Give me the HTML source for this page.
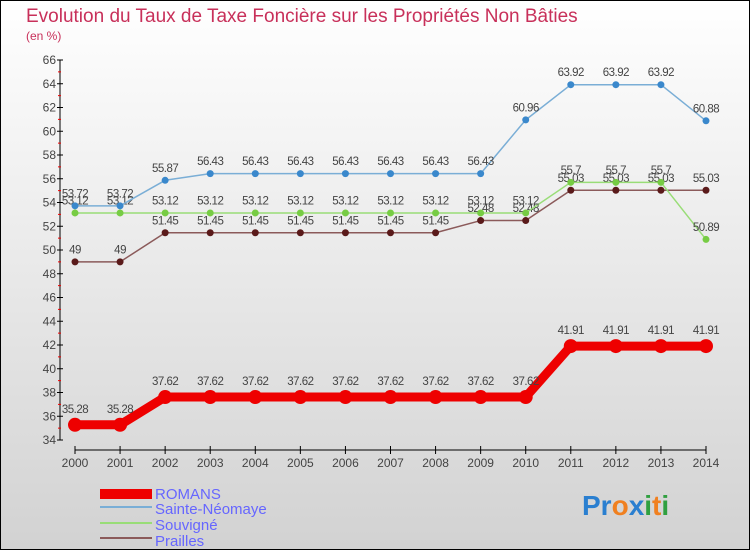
<!DOCTYPE html>
<html><head><meta charset="utf-8"><style>
body{margin:0;}
#c{width:750px;height:550px;position:relative;font-family:"Liberation Sans",sans-serif;}
</style></head><body>
<div id="c">
<svg id="s" width="750" height="550" xmlns="http://www.w3.org/2000/svg">
<defs><linearGradient id="bg" x1="0" y1="0" x2="0" y2="1"><stop offset="0" stop-color="#ffffff"/><stop offset="1" stop-color="#d2d2d2"/></linearGradient></defs>
<rect x="0.5" y="0.5" width="749" height="549" fill="url(#bg)" stroke="#000"/>
<text x="26" y="22" font-size="19" fill="#c8305a">Evolution du Taux de Taxe Foncière sur les Propriétés Non Bâties</text>
<text x="26" y="40" font-size="12" fill="#c8305a">(en %)</text>
<g id="axes"></g>
<g id="series"></g>
<g>
<rect x="100" y="489" width="52" height="10" fill="#ee0000"/>
<text x="155" y="499" font-size="15" fill="#6666ff">ROMANS</text>
<rect x="100" y="506" width="52" height="2" fill="#7aaed6"/>
<text x="155" y="514" font-size="15" fill="#6666ff">Sainte-Néomaye</text>
<rect x="100" y="522" width="52" height="2" fill="#99dd77"/>
<text x="155" y="530" font-size="15" fill="#6666ff">Souvigné</text>
<rect x="100" y="537" width="52" height="2" fill="#8b5a5a"/>
<text x="155" y="546" font-size="15" fill="#6666ff">Prailles</text>
</g>
<g font-size="28" font-weight="bold">
<text x="582" y="515"><tspan fill="#2a7fd0">Pr</tspan><tspan fill="#f08020">o</tspan><tspan fill="#2a7fd0">x</tspan><tspan fill="#30a040">i</tspan><tspan fill="#f08020">t</tspan><tspan fill="#30a040">i</tspan></text>
</g>
</svg>
</div>
<script>
const years=[2000,2001,2002,2003,2004,2005,2006,2007,2008,2009,2010,2011,2012,2013,2014];
const romans=[35.28,35.28,37.62,37.62,37.62,37.62,37.62,37.62,37.62,37.62,37.62,41.91,41.91,41.91,41.91];
const sainteNeomaye=[53.72,53.72,55.87,56.43,56.43,56.43,56.43,56.43,56.43,56.43,60.96,63.92,63.92,63.92,60.88];
const souvigne=[53.12,53.12,53.12,53.12,53.12,53.12,53.12,53.12,53.12,53.12,53.12,55.7,55.7,55.7,50.89];
const prailles=[49,49,51.45,51.45,51.45,51.45,51.45,51.45,51.45,52.48,52.48,55.03,55.03,55.03,55.03];
const yTicks=[34,36,38,40,42,44,46,48,50,52,54,56,58,60,62,64,66];
const NS="http://www.w3.org/2000/svg";
const yMin=34,yMax=66,yTop=60,yBot=440,x0=75,x1=706;
function X(i){return x0+(x1-x0)*i/(years.length-1);}
function Y(v){return yBot-(v-yMin)/(yMax-yMin)*(yBot-yTop);}
function el(t,a,p){const e=document.createElementNS(NS,t);for(const k in a)e.setAttribute(k,a[k]);p.appendChild(e);return e;}
const ax=document.getElementById('axes');
let l=el('line',{x1:60,y1:yTop,x2:60,y2:yBot,stroke:'#000'},ax);


yTicks.forEach(t=>{
 const y=Y(t);
 el('line',{x1:57,y1:y,x2:63,y2:y,stroke:'#000'},ax);
 if(t<66){const r=el('line',{x1:58,y1:Y(t+1),x2:61,y2:Y(t+1),stroke:'#e00'},ax);}
 const tx=el('text',{x:56,y:y+4,'font-size':12,'text-anchor':'end',fill:'#444'},ax);
 tx.textContent=t;
 
 
});
l=el('line',{x1:x0,y1:450,x2:x1,y2:450,stroke:'#000'},ax);


years.forEach((yr,i)=>{
 el('line',{x1:X(i),y1:446,x2:X(i),y2:454,stroke:'#000'},ax);
 const tx=el('text',{x:X(i),y:467,'font-size':12,'text-anchor':'middle',fill:'#444'},ax);
 tx.textContent=yr;
 
 
});
const sg=document.getElementById('series');
function draw(data,name,color,dot,w,r){
 const g=el('g',{},sg);
 
 
 const pts=data.map((v,i)=>X(i)+','+Y(v)).join(' ');
 el('polyline',{points:pts,fill:'none',stroke:color,'stroke-width':w,'stroke-linejoin':'round'},g);
 data.forEach((v,i)=>{
  const c=el('circle',{cx:X(i),cy:Y(v),r:r,fill:dot},g);
  
  
  const t=el('text',{x:X(i),y:Y(v)-(r+5),'font-size':11.5,'text-anchor':'middle',fill:'#444','letter-spacing':'-0.5'},g);
  t.textContent=v;
  
  
 });
}
draw(prailles,'prailles','#8b5a5a','#5a1a1a',1.5,3.5);
draw(souvigne,'souvigne','#99dd77','#77cc44',1.5,3.5);
draw(sainteNeomaye,'sainte-neomaye','#7aaed6','#3a88cc',1.5,3.5);
draw(romans,'romans','#ee0000','#ee0000',9,7);
</script>
</body></html>
